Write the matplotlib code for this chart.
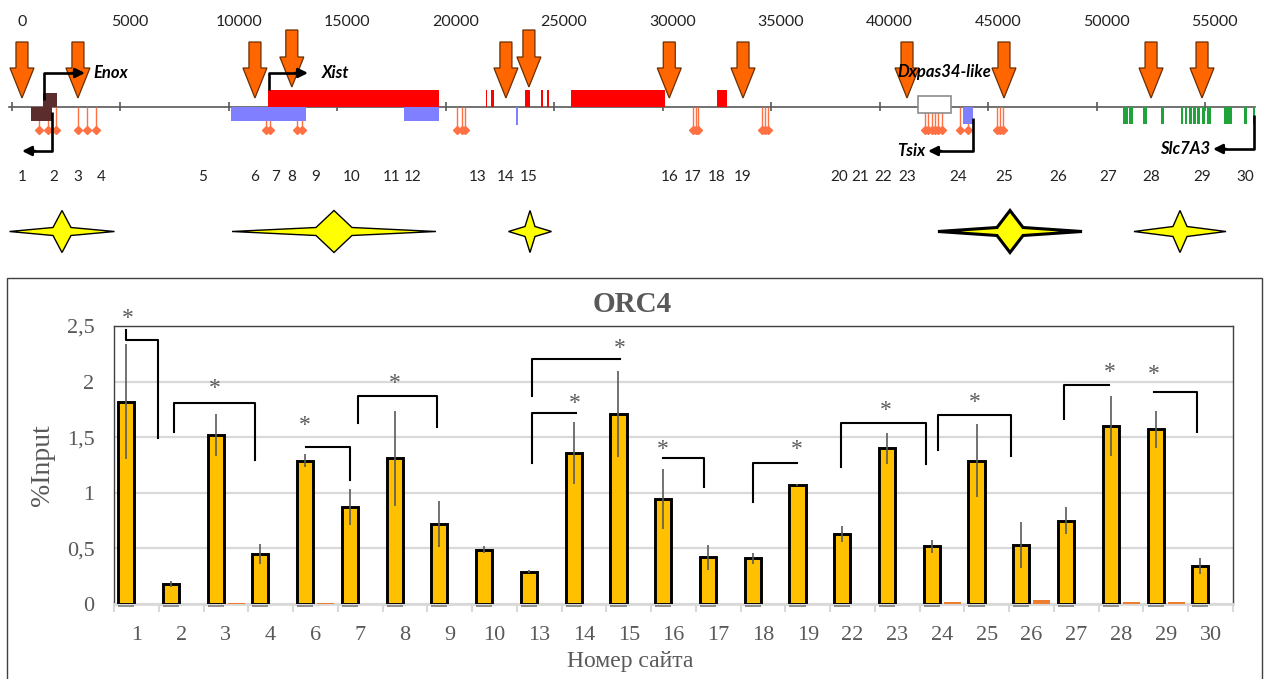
import numpy as np
import matplotlib
matplotlib.use("Agg")
import matplotlib.pyplot as plt
from matplotlib.patches import Polygon, Rectangle

# ---------------------------------------------------------------------------
# Locus map data (positions in bp)
# ---------------------------------------------------------------------------
MAP_TICKS = list(range(0, 55001, 5000))
MAP_END = 57300

SITE_IDS = list(range(1, 31))
SITE_POS = [460, 1940, 3040, 4100, 8800, 11200, 12170, 12900, 14000, 15670,
            17500, 18490, 21480, 22770, 23830, 30300, 31390, 32500, 33700, 38150,
            39100, 40150, 41260, 43610, 45730, 48220, 50530, 52510, 54860, 56840]

# sites marked with an orange arrow; two of them drawn a bit higher
ARROW_SITES = [1, 3, 6, 8, 14, 15, 16, 19, 23, 25, 28, 29]
ARROW_RAISED = [8, 15]

# exons / blocks (start, end)
ENOX_UP = [(1430, 2075)]
ENOX_DOWN = [(876, 1844)]
XIST_EXONS = [(11800, 19690), (21830, 21890), (22060, 22200), (23650, 23880),
              (24400, 24480), (24680, 24760), (25770, 30100), (32500, 32960)]
TSIX_BLOCKS = [(10100, 13550), (18070, 19690), (23250, 23330), (43840, 44300)]
DXPAS_BOX = (41770, 43290)
SLC_EXONS = [(51204, 51462), (51508, 51692), (52126, 52310), (52956, 53108),
             (53892, 53998), (54090, 54182), (54274, 54384), (54458, 54582),
             (54615, 54767), (54845, 54997), (55103, 55260), (55873, 56228),
             (56795, 56919), (57200, 57300)]

PROBES = [1245, 1660, 2028, 3043, 3458, 3872, 11709, 11894, 13139, 13369,
          20515, 20745, 20883, 31394, 31532, 31624, 34575, 34713, 34851,
          42090, 42228, 42412, 42551, 42689, 42873, 43703, 44072,
          45409, 45547, 45685]

# yellow star markers: centre, half width, inner half width (bp), heavy edge
STAR_CENTRE = [2305, 14844, 23880, 46008, 53845]
STAR_HALF = [2420, 4702, 991, 3319, 2121]
STAR_INNER = [415, 830, 230, 600, 323]
STAR_HEAVY = [False, False, False, True, False]

# ---------------------------------------------------------------------------
# ChIP data (ORC4, %Input)
# ---------------------------------------------------------------------------
SITES = ['1', '2', '3', '4', '6', '7', '8', '9', '10', '13', '14', '15', '16',
         '17', '18', '19', '22', '23', '24', '25', '26', '27', '28', '29', '30']
ORC4 = [1.82, 0.18, 1.52, 0.45, 1.29, 0.87, 1.31, 0.72, 0.49, 0.29, 1.36, 1.71,
        0.94, 0.42, 0.41, 1.07, 0.63, 1.40, 0.52, 1.29, 0.53, 0.75, 1.60, 1.57, 0.34]
ORC4_ERR = [0.52, 0.03, 0.19, 0.09, 0.055, 0.16, 0.43, 0.21, 0.03, 0.015, 0.28,
            0.385, 0.27, 0.11, 0.053, 0.01, 0.07, 0.14, 0.06, 0.33, 0.21, 0.12,
            0.27, 0.165, 0.07]
CONTROL = [0, 0, 0.006, 0, 0.006, 0, 0, 0, 0, 0, 0, 0, 0, 0, 0, 0, 0, 0,
           0.015, 0, 0.035, 0, 0.02, 0.02, 0]

# significance brackets: x left, x right, y top, y left end, y right end, star x, star y
BRACKETS = [
    (-0.24, 0.49, 2.37, 2.46, 1.49, -0.20, 2.63),
    (0.83, 2.65, 1.81, 1.545, 1.296, 1.76, 2.00),
    (3.79, 4.78, 1.416, 1.416, 1.117, 3.77, 1.67),
    (4.95, 6.71, 1.871, 1.626, 1.596, 5.78, 2.05),
    (8.83, 10.81, 2.20, 1.871, 2.20, 10.81, 2.36),
    (8.83, 9.82, 1.72, 1.266, 1.72, 9.80, 1.865),
    (11.77, 12.69, 1.309, 1.309, 1.054, 11.77, 1.456),
    (13.78, 14.76, 1.27, 0.916, 1.27, 14.76, 1.456),
    (15.75, 17.64, 1.625, 1.231, 1.261, 16.75, 1.80),
    (17.90, 19.54, 1.697, 1.384, 1.33, 18.74, 1.877),
    (20.73, 21.74, 1.967, 1.66, 1.967, 21.74, 2.147),
    (22.74, 23.69, 1.907, 1.907, 1.547, 22.74, 2.13),
]

W, H = 1268, 679
BP_PER_PX = 46.1
SANS = ['Lato', 'DejaVu Sans']
SERIF = ['Liberation Serif', 'DejaVu Serif']
GREY = '#595959'

fig = plt.figure(figsize=(W / 100, H / 100), dpi=100)

# ---------------------------------------------------------------------------
# Map panel (x in bp, y in pixels from the top)
# ---------------------------------------------------------------------------
mh = 270
am = fig.add_axes([0, 1 - mh / H, 1, mh / H])
am.set_xlim(-12 * BP_PER_PX, (W - 12) * BP_PER_PX)
am.set_ylim(mh, 0)
am.axis('off')
px = BP_PER_PX

base_y = 107
am.plot([-150, MAP_END], [base_y, base_y], color=GREY, lw=1.2, zorder=2)
am.vlines(MAP_TICKS, base_y - 5, base_y + 4, color=GREY, lw=1.2, zorder=2)
for t in MAP_TICKS:
    am.text(t + 450, 22, str(t), ha='center', va='center', fontsize=11.5,
            family=SANS, color='#222222')
for sid, pos in zip(SITE_IDS, SITE_POS):
    am.text(pos, 177, str(sid), ha='center', va='center', fontsize=11,
            family=SANS, color='#222222')

# orange arrows
for sid in ARROW_SITES:
    x = SITE_POS[sid - 1]
    top, tip = (30, 87) if sid in ARROW_RAISED else (42, 98)
    sw, hw, hl = 6 * px, 12 * px, 30
    pts = [(x - sw, top), (x + sw, top), (x + sw, tip - hl), (x + hw, tip - hl),
           (x, tip), (x - hw, tip - hl), (x - sw, tip - hl)]
    am.add_patch(Polygon(pts, closed=True, fc='#FF6600', ec='#6B2E00', lw=0.9, zorder=3))

# exon blocks
def blocks(spans, y0, y1, fc, ec='none', lw=0, z=4):
    for s, e in spans:
        am.add_patch(Rectangle((s, y0), e - s, y1 - y0, fc=fc, ec=ec, lw=lw, zorder=z))

blocks(XIST_EXONS, 90, base_y, '#FF0000')
blocks(TSIX_BLOCKS[:2], base_y, 121, '#7F7FFF')
blocks(TSIX_BLOCKS[2:3], base_y, 125, '#7F7FFF')
blocks(TSIX_BLOCKS[3:], base_y, 124, '#7F7FFF')
blocks(ENOX_UP, 93, base_y, '#5C2D2D')
blocks(ENOX_DOWN, base_y, 121, '#5C2D2D')
blocks(SLC_EXONS, base_y, 124, '#1FA33A')
blocks([DXPAS_BOX], 96, 113, 'white', ec='#8C8C8C', lw=1.2)

# probe positions
am.vlines(PROBES, base_y, 130, color='#FF7043', lw=1.0, zorder=3)
am.plot(PROBES, [130] * len(PROBES), 'D', color='#FF7043', ms=4.2, zorder=3)

# transcription start arrows
def bent(x0, y0, y1, x1):
    d = 1 if x1 > x0 else -1
    am.plot([x0, x0, x1 - d * 250], [y0, y1, y1],
            color='black', lw=1.9, zorder=6, solid_capstyle='butt')
    am.annotate('', xy=(x1, y1), xytext=(x1 - d * 600, y1),
                arrowprops=dict(arrowstyle='-|>', color='black', lw=1.9,
                                mutation_scale=14, shrinkA=0, shrinkB=0), zorder=6)

bent(1475, 100, 73, 3365)
bent(1844, 112, 151, 461)
bent(11848, 90, 73, 13646)
bent(44300, 118, 151, 42228)
bent(57256, 115, 149, 55366)

gene_kw = dict(fontsize=12, family=SANS, fontweight='bold', fontstyle='italic',
               va='center', zorder=7)
am.text(3734, 73, 'Enox', ha='left', **gene_kw)
am.text(14291, 73, 'Xist', ha='left', **gene_kw)
am.text(42965, 72, 'Dxpas34-like', ha='center', **gene_kw)
am.text(42090, 151, 'Tsix', ha='right', **gene_kw)
am.text(55228, 149, 'Slc7A3', ha='right', **gene_kw)

# yellow stars
cy = 231.5
for c, hw, iw, heavy in zip(STAR_CENTRE, STAR_HALF, STAR_INNER, STAR_HEAVY):
    hh, iy = 21, (4 if iw > 400 else 5)
    pts = [(c - hw, cy), (c - iw, cy - iy), (c, cy - hh), (c + iw, cy - iy),
           (c + hw, cy), (c + iw, cy + iy), (c, cy + hh), (c - iw, cy + iy)]
    am.add_patch(Polygon(pts, closed=True, fc='#FFFF00', ec='black',
                         lw=2.2 if heavy else 1.0, joinstyle='miter', zorder=3))

# ---------------------------------------------------------------------------
# Bar chart panel
# ---------------------------------------------------------------------------
fig.add_artist(Rectangle((7 / W, -0.02), (1262 - 7) / W, 1 - 278 / H + 0.02,
                         transform=fig.transFigure, fill=False, ec='#404040', lw=1.0))

ax = fig.add_axes([114 / W, 1 - 604 / H, 1119 / W, (604 - 326) / H])
x = np.arange(len(SITES))
ax.bar(x - 0.23, ORC4, width=0.36, color='#FFC000', edgecolor='black',
       linewidth=2.1, zorder=3)
ax.errorbar(x - 0.23, ORC4, yerr=ORC4_ERR, fmt='none', ecolor='#5A5A5A',
            elinewidth=1.2, capsize=0, zorder=4)
ax.bar(x + 0.23, CONTROL, width=0.38, color='#ED7D31', zorder=3)
ax.hlines([-0.022] * len(x), x - 0.41, x - 0.05, color='#7F7F7F', lw=1.2,
          clip_on=False, zorder=3)

ax.set_xlim(-0.5, len(SITES) - 0.5)
ax.set_ylim(0, 2.5)
yt = [0, 0.5, 1, 1.5, 2, 2.5]
ax.set_yticks(yt)
ax.set_yticklabels([f'{v:g}'.replace('.', ',') for v in yt])
ax.set_xticks(x)
ax.set_xticklabels(SITES)
ax.set_xticks(np.arange(-0.5, len(SITES), 1), minor=True)
ax.tick_params(axis='both', which='major', length=0, labelsize=16,
               labelcolor=GREY)
ax.tick_params(axis='x', which='major', pad=16)
ax.tick_params(axis='y', which='major', pad=14)
ax.tick_params(axis='x', which='minor', length=6, width=1.5, color='#D9D9D9')
for lab in ax.get_xticklabels() + ax.get_yticklabels():
    lab.set_family(SERIF)
ax.yaxis.grid(True, color='#D9D9D9', lw=1.6)
ax.set_axisbelow(True)
for s in ['top', 'left', 'right']:
    ax.spines[s].set_color('#404040')
    ax.spines[s].set_linewidth(1.0)
ax.spines['bottom'].set_color('#D9D9D9')
ax.spines['bottom'].set_linewidth(2.0)

for xl, xr, ytop, yl, yr, sx, sy in BRACKETS:
    ax.plot([xl, xl, xr, xr], [yl, ytop, ytop, yr], color='black', lw=1.5,
            zorder=5, clip_on=False)
    ax.annotate('*', (sx, sy), xytext=(0, -9), textcoords='offset points',
                ha='center', va='baseline', fontsize=17, color=GREY,
                family=SERIF, annotation_clip=False)

fig.text(632 / W, 1 - 305 / H, 'ORC4', ha='center', va='center', fontsize=21,
         fontweight='bold', color=GREY, family=SERIF)
fig.text(42 / W, 1 - 465 / H, '%Input', ha='center', va='center', rotation=90,
         fontsize=20, color=GREY, family=SERIF)
fig.text(630 / W, 1 - 662 / H, 'Номер сайта', ha='center', va='center',
         fontsize=17, color=GREY, family=SERIF)

fig.savefig('out.png', dpi=100, facecolor='white')
